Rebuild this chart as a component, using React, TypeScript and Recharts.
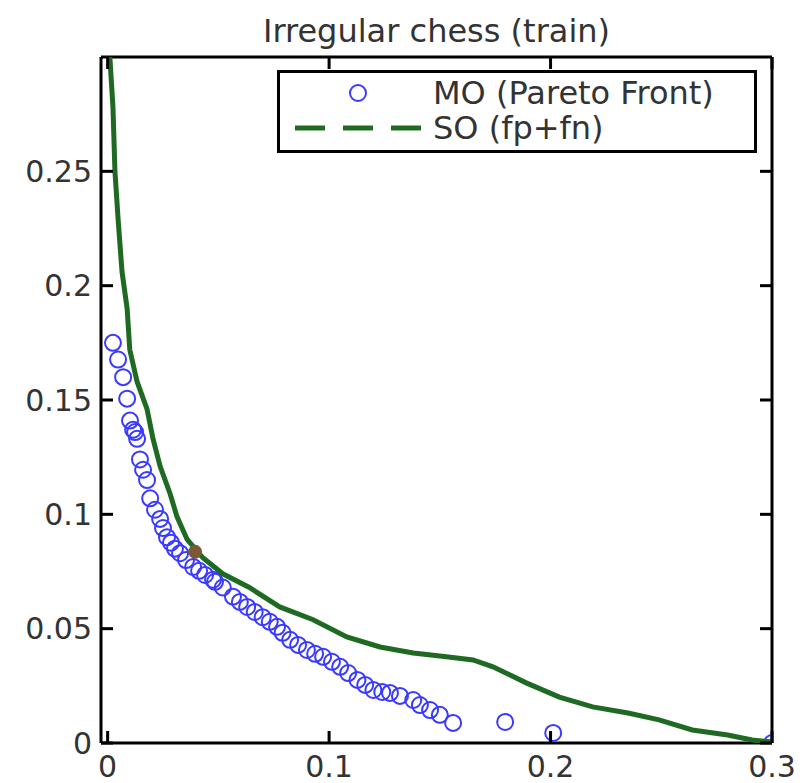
import { Scatter, ScatterChart, XAxis, YAxis } from "recharts";

// MO (Pareto Front) points
const moX = [
  0.0024, 0.0047, 0.007, 0.0088, 0.0101, 0.0115, 0.0124, 0.0133, 0.0146, 0.016,
  0.0178, 0.0192, 0.0214, 0.0237, 0.025, 0.0268, 0.0286, 0.0304, 0.0327, 0.0354,
  0.0386, 0.0413, 0.044, 0.0476, 0.0485, 0.052, 0.0566, 0.0597, 0.063, 0.0664,
  0.07, 0.0732, 0.0765, 0.079, 0.0824, 0.086, 0.09, 0.0937, 0.0973, 0.1013,
  0.105, 0.1086, 0.1128, 0.1163, 0.12, 0.124, 0.1275, 0.132, 0.138, 0.141,
  0.1456, 0.15, 0.156, 0.1795, 0.2012, 0.3,
];
const moY = [
  0.175, 0.1677, 0.16, 0.1506, 0.141, 0.137, 0.136, 0.133, 0.124, 0.1195,
  0.115, 0.107, 0.102, 0.098, 0.094, 0.09, 0.0876, 0.085, 0.083, 0.08,
  0.077, 0.0753, 0.0735, 0.0714, 0.0705, 0.068, 0.064, 0.0617, 0.0595, 0.0573,
  0.055, 0.053, 0.0508, 0.0482, 0.0451, 0.0429, 0.0407, 0.039, 0.0377, 0.0355,
  0.0333, 0.0306, 0.0276, 0.0254, 0.0232, 0.0223, 0.0219, 0.0206, 0.0188, 0.0166,
  0.0144, 0.0123, 0.0088, 0.0092, 0.0044, 0,
];

// SO (fp+fn) curve
const soX = [
  0.001, 0.0024, 0.0033, 0.0048, 0.0065, 0.0088, 0.01, 0.0133, 0.0178, 0.0205,
  0.0237, 0.0282, 0.0313, 0.0359, 0.043, 0.052, 0.064, 0.0777, 0.0928, 0.108,
  0.123, 0.138, 0.153, 0.165, 0.174, 0.189, 0.204, 0.219, 0.235, 0.249,
  0.264, 0.28, 0.291, 0.3,
];
const soY = [
  0.3, 0.278, 0.25, 0.228, 0.206, 0.19, 0.172, 0.158, 0.146, 0.133,
  0.121, 0.109, 0.099, 0.089, 0.081, 0.074, 0.068, 0.0595, 0.0539, 0.0464,
  0.042, 0.0394, 0.0377, 0.0363, 0.0333, 0.0263, 0.0201, 0.0158, 0.0131, 0.0101,
  0.0057, 0.0035, 0.0013, 0.0004,
];

// highlighted point where the two overlap
const markX = [0.0395];
const markY = [0.0836];

const xTicks = [0, 0.1, 0.2, 0.3];
const yTicks = [0, 0.05, 0.1, 0.15, 0.2, 0.25];

const mo = moX.map((x, i) => ({ x, y: moY[i] }));
const so = soX.map((x, i) => ({ x, y: soY[i] }));
const mark = markX.map((x, i) => ({ x, y: markY[i] }));

const FONT = "'DejaVu Sans', sans-serif";
const TXT = "#333";
const TICK = 12;

const BottomTick = (p: any) => (
  <g>
    <line x1={p.x} y1={p.y} x2={p.x} y2={p.y - TICK} stroke="#000" strokeWidth={3} />
    <text x={p.x} y={p.y + 34} textAnchor="middle" fontSize={30} fontFamily={FONT} fill={TXT}>
      {String(p.payload.value)}
    </text>
  </g>
);

const TopTick = (p: any) => (
  <line x1={p.x} y1={p.y} x2={p.x} y2={p.y + TICK} stroke="#000" strokeWidth={3} />
);

const LeftTick = (p: any) => (
  <g>
    <line x1={p.x} y1={p.y} x2={p.x + TICK} y2={p.y} stroke="#000" strokeWidth={3} />
    <text x={p.x - 9} y={p.y} dy="0.36em" textAnchor="end" fontSize={30} fontFamily={FONT} fill={TXT}>
      {String(p.payload.value)}
    </text>
  </g>
);

const RightTick = (p: any) => (
  <line x1={p.x} y1={p.y} x2={p.x - TICK} y2={p.y} stroke="#000" strokeWidth={3} />
);

const Circle = (p: any) => (
  <circle cx={p.cx} cy={p.cy} r={8} fill="none" stroke="#3a3aff" strokeWidth={2} />
);

const Mark = (p: any) => <circle cx={p.cx} cy={p.cy} r={7} fill="#7a5a36" />;

export default function App() {
  return (
    <div style={{ position: "absolute", left: 0, top: 0, width: 807, height: 783, background: "#fff" }}>
      <div
        style={{
          position: "absolute",
          left: 0,
          width: 873,
          top: 12,
          textAlign: "center",
          fontFamily: FONT,
          fontSize: 32,
          color: TXT,
        }}
      >
        Irregular chess (train)
      </div>
      <ScatterChart width={807} height={783} margin={{ top: 56, right: 34, bottom: 0, left: 0 }}>
        <XAxis
          xAxisId="b"
          type="number"
          dataKey="x"
          domain={[-0.003, 0.3]}
          ticks={xTicks}
          allowDataOverflow
          height={40}
          tickSize={0}
          tickMargin={0}
          tickLine={false}
          axisLine={{ stroke: "#000", strokeWidth: 3 }}
          tick={BottomTick}
          interval={0}
        />
        <XAxis
          xAxisId="t"
          orientation="top"
          type="number"
          dataKey="x"
          domain={[-0.003, 0.3]}
          ticks={xTicks}
          allowDataOverflow
          height={1}
          tickSize={0}
          tickMargin={0}
          tickLine={false}
          axisLine={{ stroke: "#000", strokeWidth: 3 }}
          tick={TopTick}
          interval={0}
        />
        <YAxis
          yAxisId="l"
          type="number"
          dataKey="y"
          domain={[0, 0.3]}
          ticks={yTicks}
          allowDataOverflow
          width={101}
          tickSize={0}
          tickMargin={0}
          tickLine={false}
          axisLine={{ stroke: "#000", strokeWidth: 3 }}
          tick={LeftTick}
          interval={0}
        />
        <YAxis
          yAxisId="r"
          orientation="right"
          type="number"
          dataKey="y"
          domain={[0, 0.3]}
          ticks={yTicks}
          allowDataOverflow
          width={1}
          tickSize={0}
          tickMargin={0}
          tickLine={false}
          axisLine={{ stroke: "#000", strokeWidth: 3 }}
          tick={RightTick}
          interval={0}
        />
        <Scatter
          name="MO (Pareto Front)"
          data={mo}
          xAxisId="b"
          yAxisId="l"
          shape={Circle}
          isAnimationActive={false}
        />
        <Scatter
          name="SO (fp+fn)"
          data={so}
          xAxisId="b"
          yAxisId="l"
          line={{ stroke: "#1f6a22", strokeWidth: 5 }}
          shape={() => <g />}
          isAnimationActive={false}
        />
        <Scatter data={mark} xAxisId="b" yAxisId="l" shape={Mark} isAnimationActive={false} />
      </ScatterChart>
      <div
        style={{
          position: "absolute",
          left: 277,
          top: 70,
          width: 480,
          height: 83,
          boxSizing: "border-box",
          border: "3px solid #000",
          background: "#fff",
        }}
      >
        <svg width={474} height={77} style={{ position: "absolute", left: 0, top: 0 }}>
          <circle cx={78} cy={20} r={8} fill="none" stroke="#3a3aff" strokeWidth={2} />
          <line x1={15} y1={55} x2={143} y2={55} stroke="#1f6a22" strokeWidth={5} strokeDasharray="30 18" />
          <text x={153} y={31} fontSize={32} fontFamily={FONT} fill={TXT}>
            MO (Pareto Front)
          </text>
          <text x={153} y={66} fontSize={32} fontFamily={FONT} fill={TXT}>
            SO (fp+fn)
          </text>
        </svg>
      </div>
    </div>
  );
}
